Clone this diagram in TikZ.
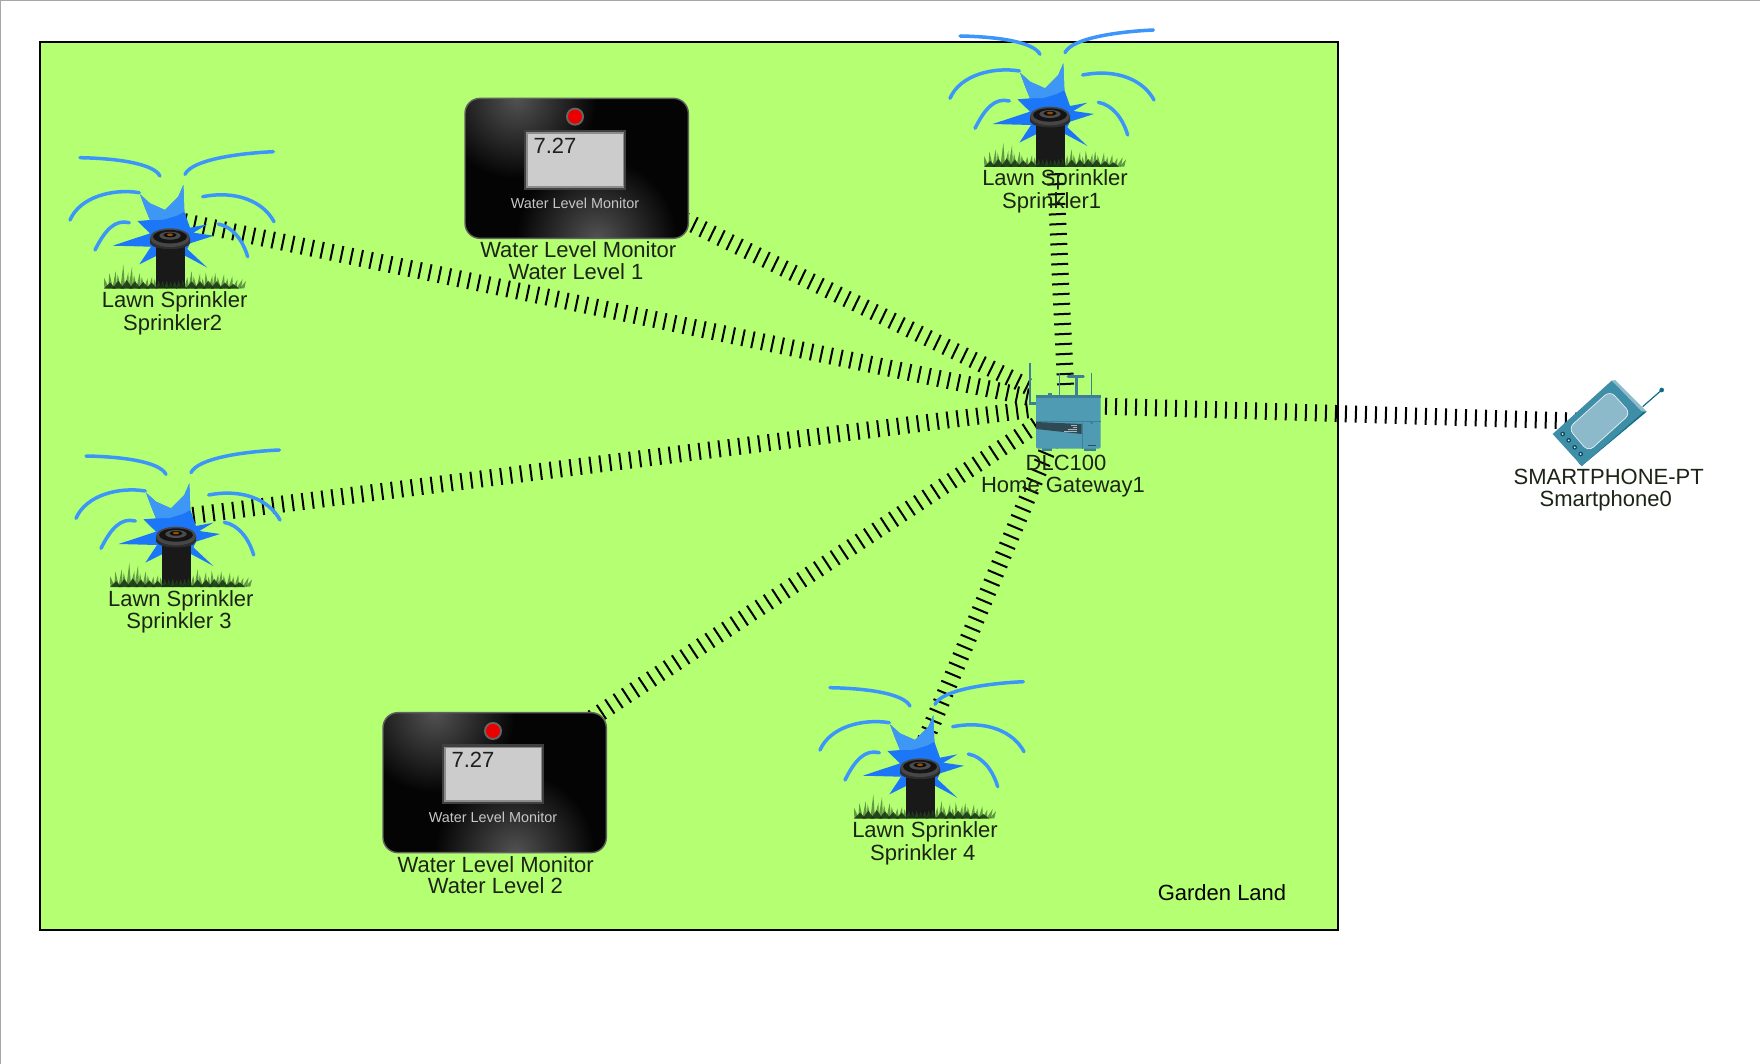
\documentclass[tikz,border=0pt]{standalone}
\usepackage{fontspec}
\setmainfont{Liberation Sans}
\definecolor{lawn}{HTML}{B5FF72}
\definecolor{spray}{HTML}{3C95FA}
\definecolor{starlo}{HTML}{1C76F8}
\definecolor{starhi}{HTML}{3F97F5}
\definecolor{labelc}{HTML}{1C2416}
\definecolor{glowc}{HTML}{525252}
\definecolor{darkc}{HTML}{040404}
\definecolor{gwbody}{HTML}{4F9BB3}
\definecolor{gwtop}{HTML}{3F7F95}
\definecolor{gwband}{HTML}{2F4A55}
\definecolor{phoneface}{HTML}{3F8EA8}
\definecolor{phonelight}{HTML}{8FBCCC}
\definecolor{phonedark}{HTML}{0F6C86}
\definecolor{phonescreen}{HTML}{8CBACB}
\definecolor{blade}{HTML}{2C5526}
\definecolor{sod}{HTML}{142E10}
\pgfdeclareradialshading{glowm}{\pgfpoint{0bp}{0bp}}{color(0bp)=(glowc); color(25bp)=(darkc); color(50bp)=(darkc)}
\tikzset{
  x=1pt,y=-1pt,
  link/.style={draw=black,line width=17pt,dash pattern=on 2pt off 8pt},
  hub/.style={inner sep=0pt,minimum size=0pt,outer sep=0pt},
  lbl/.style={anchor=base,inner sep=0pt,text=labelc,font=\fontsize{22}{22}\selectfont},
  jet/.style={draw=spray,line width=3.5pt,line cap=round},
  sprinklerpic/.pic={
    \begin{scope}[scale=0.33333]
      \draw[jet] (90,78) .. controls (200,80) and (310,95) .. (330,133);
      \draw[jet] (405,128) .. controls (425,85) and (560,65) .. (670,60);
      \draw[jet] (60,265) .. controls (90,195) and (190,170) .. (268,183);
      \draw[jet] (458,195) .. controls (560,175) and (640,210) .. (672,270);
      \draw[jet] (135,355) .. controls (165,295) and (195,262) .. (238,273);
      \draw[jet] (505,277) .. controls (550,285) and (580,330) .. (593,375);
      \fill[starlo] (400,160) -- (403,240) -- (420,288) -- (472,278) -- (430,303) -- (492,312) -- (420,335) -- (412,352)
        -- (472,408) -- (405,372) -- (320,372) -- (268,398) -- (303,345) -- (188,342) -- (300,305) -- (262,268)
        -- (300,265) -- (285,228) -- (270,188) -- (300,215) -- (345,235) -- (385,195) -- cycle;
      \fill[starhi] (270,188) -- (300,215) -- (345,235) -- (385,195) -- (400,160) -- (403,240) -- (380,252) -- (340,264) -- (300,265) -- (285,228) -- cycle;
      \fill[black!90] (318,335) rectangle (405,470);
      \fill[black!82] (300,318) -- (300,335) .. controls (310,358) and (410,358) .. (420,335) -- (420,318) -- cycle;
      \fill[black!72] (360,318) ellipse [x radius=60, y radius=28];
      \fill[black!92] (360,315) ellipse [x radius=51, y radius=20];
      \fill[black!70] (360,312) ellipse [x radius=32, y radius=12];
      \fill[black!95] (360,310) ellipse [x radius=20, y radius=7];
      \fill[orange!60!black] (360,309) ellipse [x radius=9, y radius=4];
      \foreach \sx/\sh/\sl in {170/32/-8,182/46/-4,194/52/3,206/42/-3,218/72/2,230/48/5,242/64/4,254/40/-2,266/46/3,278/34/-3,290/30/2,302/34/4,314/28/0,
        326/24/0,338/22/0,350/24/0,362/20/0,374/22/0,386/24/0,398/26/0,410/34/2,422/52/3,434/36/-3,446/44/4,458/30/0,470/48/-3,482/38/5,494/46/2,506/34/-3,518/42/4,530/30/2,542/36/5,554/26/8,566/28/12,576/22/12}
        {\fill[blade,opacity=.6] (\sx-7,470) -- (\sx+\sl,470-\sh) -- (\sx+7,470) -- cycle;}
      \foreach \sx/\sh in {180/18,205/24,230/26,255/22,280/20,305/18,335/14,365/14,395/16,425/22,450/22,475/24,500/22,525/18,550/14}
        {\fill[sod,opacity=.8] (\sx-18,471) -- (\sx,471-\sh) -- (\sx+18,471) -- cycle;}
    \end{scope}
  },
  monitorpic/.pic={
    \begin{scope}[scale=0.33333]
      \begin{scope}
        \clip[rounded corners=15pt] (45,40) rectangle (715,460);
        \fill[darkc] (45,40) rectangle (715,460);
        \shade[shading=glowm] (200,40) circle [radius=240];
        \shade[shading=glowm] (440,460) circle [radius=240];
      \end{scope}
      \draw[black!62,line width=1.4pt,rounded corners=15pt] (45,40) rectangle (715,460);
      \fill[black!60] (375,95) circle [radius=27];
      \fill[red!92!black] (375,95) circle [radius=21];
      \fill[black!75] (222,134) rectangle (528,314);
      \fill[black!45] (228,142) rectangle (522,308);
      \fill[black!20] (233,146) rectangle (518,302);
      \node[anchor=base west,inner sep=0pt,text=black!88,font=\fontsize{22}{22}\selectfont] at (250,205) {7.27};
      \node[anchor=base,inner sep=0pt,text=black!22,font=\fontsize{14.4}{15}\selectfont] at (375,370) {Water Level Monitor};
    \end{scope}
  },
  gatewaypic/.pic={
    \begin{scope}[scale=0.33333]
      \draw[gwtop,line width=1.4pt] (150,40) -- (150,160);
      \draw[gwtop,line width=1.2pt] (238,68) -- (238,135);
      \draw[gwtop,line width=1.2pt] (334,68) -- (334,135);
      \draw[gwtop,line width=2.6pt] (290,135) -- (290,85);
      \draw[gwtop,line width=2.8pt,line cap=round] (264,80) -- (310,80);
      \fill[gwtop] (148,155) rectangle (170,165);
      \fill[gwtop] (205,128) rectangle (215,136);
      \fill[gwtop] (185,294) rectangle (215,304);
      \fill[gwtop] (312,294) rectangle (348,304);
      \fill[gwbody,rounded corners=2pt] (168,135) rectangle (362,296);
      \fill[gwtop] (168,135) rectangle (362,143);
      \draw[gwtop,line width=.7pt] (168,214) -- (362,214);
      \draw[gwtop,line width=.7pt] (307,218) -- (307,296);
      \fill[gwband] (168,216) -- (305,222) -- (305,252) -- (168,237) -- cycle;
      \foreach \ry/\rx in {225/272,232/278,239/264,245/252}
        {\draw[white!60!gwband,line width=.5pt] (\rx,\ry) -- (290,\ry);}
      \fill[gwtop] (335,218) circle [radius=5];
      \draw[gwband,line width=.8pt] (325,287) -- (348,287);
    \end{scope}
  },
  phonepic/.pic={
    \begin{scope}[scale=0.33333]
      \draw[phonedark,line width=1.2pt] (428,140) -- (485,90);
      \fill[phonedark] (485,90) circle [radius=7];
      \fill[phonelight] (335,62) -- (345,60) -- (440,155) -- (420,160) -- cycle;
      \fill[phonedark] (245,318) -- (440,155) -- (420,155) -- (235,308) -- cycle;
      \fill[phoneface] (158,222) -- (335,62) -- (428,158) -- (245,318) -- cycle;
      \draw[white!80!phonescreen,line width=.7pt,fill=phonescreen,rounded corners=7pt] (205,205) -- (330,92) -- (392,160) -- (265,275) -- cycle;
      \foreach \bx/\by in {188/222,206/241,224/262,242/282}
        {\fill[phonedark!70!black] (\bx,\by) circle [radius=7]; \fill[white!80!phonescreen] (\bx,\by) circle [radius=3];}
    \end{scope}
  },
}
\begin{document}
\begin{tikzpicture}
  \useasboundingbox (0,0) rectangle (1760,1064);
  \fill[white] (0,0) rectangle (1760,1064);
  \draw[black!35,line width=1.4pt] (0.7,1064) -- (0.7,0.7) -- (1760,0.7);
  \node[draw=black,line width=2pt,fill=lawn,minimum width=1298pt,minimum height=888pt,inner sep=0pt,anchor=north west] (garden) at (39.3,41.3) {};

  \node[hub,minimum width=77pt,minimum height=40pt] (gw) at (1066.5,405) {};
  \node[hub] (s1) at (1051.7,97.3) {};
  \node[hub] (s2) at (171.7,219) {};
  \node[hub] (s3) at (177.7,517.3) {};
  \node[hub] (s4) at (921.7,749) {};
  \node[hub] (m1) at (576.5,168) {};
  \node[hub] (m2) at (494.5,782.5) {};
  \node[hub] (ph) at (1605,422) {};

  \draw[link] (gw) -- (s1);
  \draw[link] (gw) -- (s2);
  \draw[link] (gw) -- (s3);
  \draw[link] (gw) -- (s4);
  \draw[link] (gw) -- (m1);
  \draw[link] (gw) -- (m2);
  \draw[link] (gw) -- (ph);

  \pic at (930,10) {sprinklerpic};
  \pic at (50,131.7) {sprinklerpic};
  \pic at (56,430) {sprinklerpic};
  \pic at (800,661.7) {sprinklerpic};
  \pic at (450,85) {monitorpic};
  \pic at (368,699.3) {monitorpic};
  \pic at (980,350) {gatewaypic};
  \pic at (1500,360) {phonepic};

  \node[lbl] (s1a) at (1055,186) {Lawn Sprinkler};
  \node[lbl] (s1b) at (1051.7,208.3) {Sprinkler1};
  \node[lbl] (s2a) at (174.7,307.6) {Lawn Sprinkler};
  \node[lbl] (s2b) at (172.7,330.3) {Sprinkler2};
  \node[lbl] (s3a) at (180.8,606.3) {Lawn Sprinkler};
  \node[lbl] (s3b) at (179,628.6) {Sprinkler 3};
  \node[lbl] (s4a) at (925,837.6) {Lawn Sprinkler};
  \node[lbl] (s4b) at (922.7,860.3) {Sprinkler 4};
  \node[lbl] (m1a) at (578.3,258) {Water Level Monitor};
  \node[lbl] (m1b) at (576,280) {Water Level 1};
  \node[lbl] (m2a) at (495.7,872) {Water Level Monitor};
  \node[lbl] (m2b) at (495.3,893.6) {Water Level 2};
  \node[lbl] (gwa) at (1066,470.3) {DLC100};
  \node[lbl] (gwb) at (1063,492) {Home Gateway1};
  \node[lbl] (pha) at (1608.7,484.3) {SMARTPHONE-PT};
  \node[lbl] (phb) at (1605.7,506) {Smartphone0};
  \node[lbl,text=black] (gl) at (1222,900.3) {Garden Land};
\end{tikzpicture}
\end{document}
